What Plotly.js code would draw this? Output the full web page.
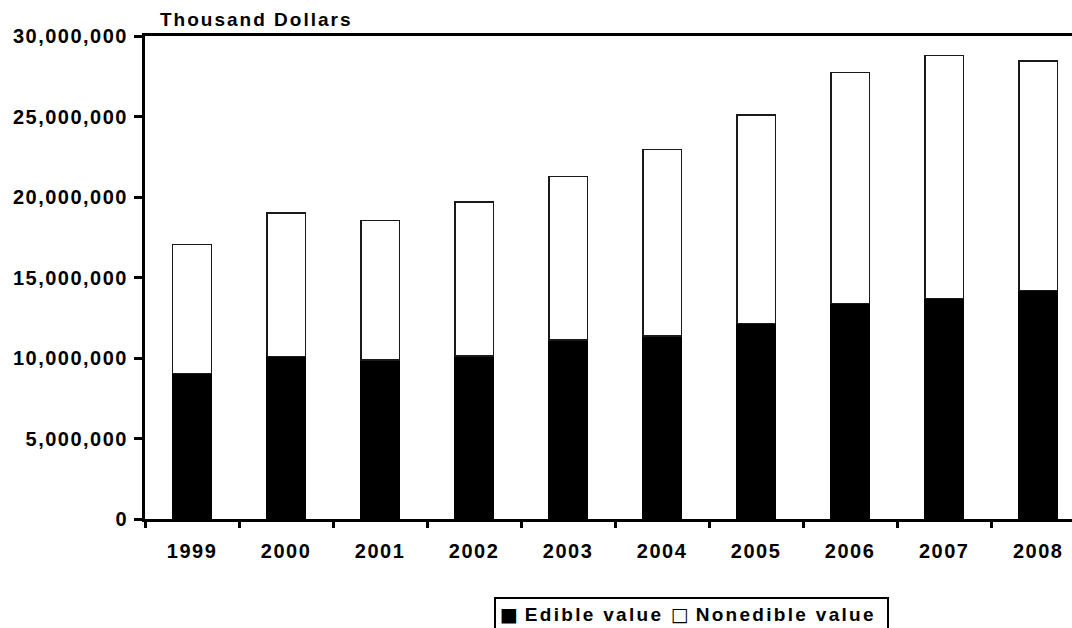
<!DOCTYPE html>
<html>
<head>
<meta charset="utf-8">
<script src="https://cdn.plot.ly/plotly-3.0.1.min.js"></script>
<style>
  html, body { margin: 0; padding: 0; background: #fff; overflow: hidden; }
  #chart { width: 1072px; height: 628px; }
  svg text { font-weight: 700 !important; }
  .xtick text, .ytick text { letter-spacing: 1.5px; }
  .gtitle { letter-spacing: 2px; }
  .annotation-text { letter-spacing: 2.3px; }
</style>
</head>
<body>
<div id="chart"></div>
<script>
// Years (categories)
const years = ["1999", "2000", "2001", "2002", "2003", "2004", "2005", "2006", "2007", "2008"];
// Edible value, thousand dollars
const edibleValue = [9050000, 10100000, 9880000, 10140000, 11120000, 11370000, 12130000, 13380000, 13710000, 14200000];
// Nonedible value, thousand dollars
const nonedibleValue = [8000000, 8900000, 8670000, 9550000, 10150000, 11580000, 12970000, 14340000, 15070000, 14250000];
// Y tick values / labels
const yTickVals = [0, 5000000, 10000000, 15000000, 20000000, 25000000, 30000000];
const yTickText = ["0", "5,000,000", "10,000,000", "15,000,000", "20,000,000", "25,000,000", "30,000,000"];
// Series names
const seriesNames = ["Edible value", "Nonedible value"];

const FONT = "Liberation Sans, Arial, Helvetica, sans-serif";

const traces = [
  {
    type: "bar",
    name: seriesNames[0],
    x: years,
    y: edibleValue,
    width: 0.41,
    marker: { color: "#000000", line: { color: "#000000", width: 1 } },
    hoverinfo: "x+y+name"
  },
  {
    type: "bar",
    name: seriesNames[1],
    x: years,
    y: nonedibleValue,
    width: 0.41,
    marker: { color: "#ffffff", line: { color: "#1a1a1a", width: 1.5 } },
    hoverinfo: "x+y+name"
  }
];

// Legend drawn as a bordered text box (mirrors the original boxed key)
const SQ = "font-family:'DejaVu Sans'";
const GAP = '<span style="font-size:8px"> </span>';
const legendText =
  '<span style="' + SQ + '">■</span>' + GAP + seriesNames[0] +
  ' <span style="' + SQ + '">□</span>' + GAP + seriesNames[1] + '&nbsp;';

const layout = {
  width: 1072,
  height: 628,
  margin: { l: 145, r: 0, t: 36, b: 109, pad: 0 },
  paper_bgcolor: "#ffffff",
  plot_bgcolor: "#ffffff",
  barmode: "stack",
  showlegend: false,
  font: { family: FONT, size: 20, color: "#000000", weight: "bold" },
  title: {
    text: "Thousand Dollars",
    font: { family: FONT, size: 19, color: "#000000", weight: "bold" },
    xref: "container",
    yref: "container",
    x: 160 / 1072,
    xanchor: "left",
    y: 1 - 19 / 628,
    yanchor: "middle"
  },
  xaxis: {
    type: "category",
    range: [-0.5, 9.36],
    showgrid: false,
    zeroline: false,
    showline: true,
    linecolor: "#000000",
    linewidth: 3,
    mirror: true,
    ticks: "outside",
    tickson: "boundaries",
    ticklen: 6,
    tickwidth: 3,
    tickcolor: "#000000",
    ticklabelstandoff: 12,
    tickfont: { family: FONT, size: 20, color: "#000000", weight: "bold" },
    fixedrange: true
  },
  yaxis: {
    range: [0, 30000000],
    tickvals: yTickVals,
    ticktext: yTickText,
    showgrid: false,
    zeroline: false,
    showline: true,
    linecolor: "#000000",
    linewidth: 3,
    ticks: "outside",
    ticklen: 8,
    tickwidth: 3,
    tickcolor: "#000000",
    ticklabelstandoff: 2,
    tickfont: { family: FONT, size: 20, color: "#000000", weight: "bold" },
    fixedrange: true
  },
  annotations: [
    {
      text: legendText,
      xref: "paper",
      yref: "paper",
      x: (494 - 145) / 927,
      xanchor: "left",
      y: (519 - 597) / 483,
      yanchor: "top",
      showarrow: false,
      align: "left",
      bordercolor: "#000000",
      borderwidth: 2,
      borderpad: 4,
      bgcolor: "#ffffff",
      font: { family: FONT, size: 19, color: "#000000", weight: "bold" }
    }
  ]
};

Plotly.newPlot("chart", traces, layout, { displayModeBar: false, staticPlot: true });
</script>
</body>
</html>
